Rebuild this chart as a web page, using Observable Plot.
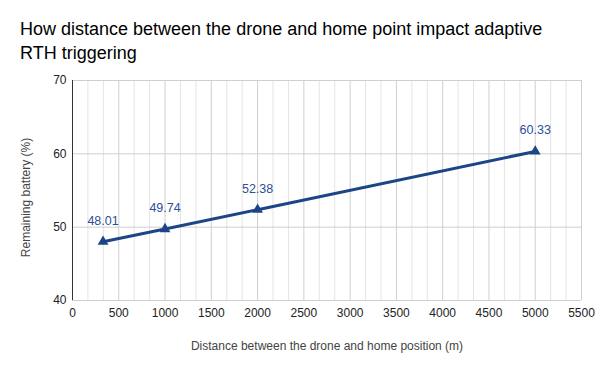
<!DOCTYPE html>
<html><head><meta charset="utf-8">
<script src="https://cdn.jsdelivr.net/npm/d3@7"></script>
<script src="https://cdn.jsdelivr.net/npm/@observablehq/plot@0.6"></script>
<style>
body{margin:0;background:#fff;font-family:"Liberation Sans",Arial,sans-serif;}
#title{height:70px;box-sizing:border-box;padding:17px 0 0 20px;font-size:18px;line-height:24px;color:#000;}
</style></head>
<body>
<div id="title">How distance between the drone and home point impact adaptive<br>RTH triggering</div>
<div id="chart"></div>
<script>
const distances = [330, 1000, 2000, 5000];
const battery = [48.01, 49.74, 52.38, 60.33];
const xTicks = [0,500,1000,1500,2000,2500,3000,3500,4000,4500,5000,5500];
const yTicks = [40,50,60,70];
const data = distances.map((d,i)=>({x:d, y:battery[i]}));
const minorX = d3.range(0, 5501, 500/3).filter(v => Math.abs(v/500 - Math.round(v/500)) > 1e-6);

const chart = Plot.plot({
  width: 600, height: 301,
  marginLeft: 72, marginRight: 19, marginTop: 10, marginBottom: 71,
  style: {fontFamily: '"Liberation Sans",Arial,sans-serif', fontSize: "12px", color: "#222", background: "#fff"},
  x: {domain: [0, 5500], ticks: xTicks, tickFormat: d => String(d), tickSize: 0, tickPadding: 8, label: "Distance between the drone and home position (m)", labelAnchor: "center", labelOffset: 49, labelArrow: "none"},
  y: {domain: [40, 70], ticks: yTicks, tickFormat: d => String(d), tickSize: 0, tickPadding: 6, label: "Remaining battery (%)", labelAnchor: "center", labelOffset: 51, labelArrow: "none"},
  marks: [
    Plot.gridX(minorX, {stroke: "#e4e4e4", strokeOpacity: 1}),
    Plot.gridX(xTicks, {stroke: "#cfcfcf", strokeOpacity: 1}),
    Plot.gridY([50, 60, 70], {stroke: "#cfcfcf", strokeOpacity: 1}),
    Plot.ruleY([40], {stroke: "#cfcfcf"}),
    Plot.ruleX([0], {stroke: "#333"}),
    Plot.line(data, {x: "x", y: "y", stroke: "#1c4587", strokeWidth: 3}),
    Plot.dot(data, {x: "x", y: "y", symbol: "triangle", r: 4, fill: "#1c4587"}),
    Plot.text(data, {x: "x", y: "y", text: d => d.y.toFixed(2), dy: -21, fill: "#2d4f96", fontSize: 12.5})
  ]
});
chart.querySelectorAll('[aria-label="x-axis label"] text, [aria-label="y-axis label"] text').forEach(t => t.setAttribute("fill", "#444"));
chart.querySelectorAll('[aria-label="y-axis label"] text').forEach(t => t.setAttribute("dx", "-7"));
document.getElementById("chart").appendChild(chart);
</script>
</body></html>
